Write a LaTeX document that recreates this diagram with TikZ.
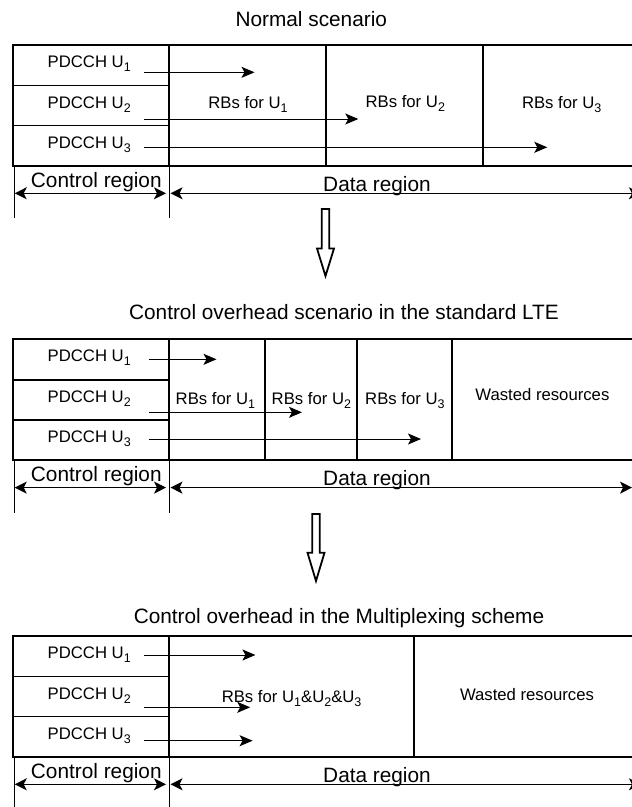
\documentclass[tikz,border=0pt]{standalone}
\usepackage{fontspec}
\setmainfont{Liberation Sans}
\usetikzlibrary{arrows.meta}
\newcommand{\usub}[1]{\raisebox{-4pt}{\fontsize{12.5}{13}\selectfont #1}}

\begin{document}
\begin{tikzpicture}[x=1pt, y=-1pt,
    box/.style={line width=1.7pt},
    flow/.style={-{Stealth[length=13pt,width=11pt,inset=3pt]}, line width=1pt},
    dim/.style={{Stealth[length=12pt,width=12pt,inset=3pt]}-{Stealth[length=12pt,width=12pt,inset=3pt]}, line width=1.3pt},
    tick/.style={line width=1.3pt},
    hollow/.style={line width=1.8pt, line join=miter},
    lbl/.style={font=\fontsize{16.7}{19}\selectfont, inner sep=0pt, anchor=base},
    big/.style={font=\fontsize{20.8}{24}\selectfont, inner sep=0pt, anchor=base}]
    \useasboundingbox (0,0) rectangle (632,807);

    % Common part of the three panels: control column and regions below
    \foreach \k/\T/\R in {1/45/641, 2/339.3/632, 3/636/641} {
      \begin{scope}[shift={(0,\T)}]
        \draw[box] (645,0) -- (13.3,0) -- (13.3,120.7) -- (645,120.7);
        \draw[box] (169.3,0) -- (169.3,120.7);
        \draw[box] (13.3,40.5) -- (169.3,40.5) (13.3,80.5) -- (169.3,80.5);
        \foreach \u/\y in {1/22.5, 2/63.5, 3/103}
          \node[lbl, anchor=base west] (p\k\u) at (47.5,\y) {PDCCH U\usub{\u}};
        % Control region / Data region
        \draw[tick] (14.7,120.7) -- (14.7,173.3) (169.3,120.7) -- (169.3,173.3);
        \coordinate (cl\k) at (14.7,148.3);
        \coordinate (cr\k) at (166,148.3);
        \coordinate (dl\k) at (170.5,148.3);
        \coordinate (dr\k) at (\R,148.3);
        \draw[dim] (cl\k) -- (cr\k);
        \draw[dim] (dl\k) -- (dr\k);
        \node[big] (ctrl\k) at (96.3,142) {Control region};
        \node[big] (data\k) at (377,146) {Data region};
      \end{scope}
    }

    % Normal scenario
    \node[big] (t1) at (311.3,26.7) {Normal scenario};
    \begin{scope}[shift={(0,45)}]
      \draw[box] (326,0) -- (326,120.7) (482.7,0) -- (482.7,120.7);
      \node[lbl] (rb11) at (248,63.3) {RBs for U\usub{1}};
      \node[lbl] (rb12) at (405.3,62.5) {RBs for U\usub{2}};
      \node[lbl] (rb13) at (561.7,63.3) {RBs for U\usub{3}};
      \coordinate (a11) at (254.5,27.3);
      \coordinate (a12) at (358.3,74);
      \coordinate (a13) at (547.3,102.3);
    \end{scope}
    \foreach \u in {1,2,3}
      \draw[flow, shorten <=13.5pt] (p1\u.east |- a1\u) -- (a1\u);

    % Control overhead in the standard LTE
    \node[big] (t2) at (344,319) {Control overhead scenario in the standard LTE};
    \begin{scope}[shift={(0,339.3)}]
      \draw[box] (265,0) -- (265,120.7) (357,0) -- (357,120.7) (452,0) -- (452,120.7);
      \node[lbl] (rb21) at (215.4,64.8) {RBs for U\usub{1}};
      \node[lbl] (rb22) at (311.4,64.8) {RBs for U\usub{2}};
      \node[lbl] (rb23) at (404.9,64.8) {RBs for U\usub{3}};
      \node[lbl] (w2) at (542.4,61.3) {Wasted resources};
      \coordinate (a21) at (216.5,20);
      \coordinate (a22) at (302,73);
      \coordinate (a23) at (421,99.7);
    \end{scope}
    \foreach \u in {1,2,3}
      \draw[flow, shorten <=18pt] (p2\u.east |- a2\u) -- (a2\u);

    % Control overhead with multiplexing
    \node[big] (t3) at (339,623.3) {Control overhead in the Multiplexing scheme};
    \begin{scope}[shift={(0,636)}]
      \draw[box] (414.3,0) -- (414.3,120.7);
      \node[lbl] (rb3) at (291.6,66.5) {RBs for U\usub{1}\&U\usub{2}\&U\usub{3}};
      \node[lbl] (w3) at (527,64.8) {Wasted resources};
      \coordinate (a31) at (255.4,19);
      \coordinate (a32) at (250.2,71.3);
      \coordinate (a33) at (252.6,104.7);
    \end{scope}
    \foreach \u in {1,2,3}
      \draw[flow, shorten <=13pt] (p3\u.east |- a3\u) -- (a3\u);

    % Hollow arrows between the panels
    \foreach \x/\a/\b/\c in {325.5/209/248.5/276, 316/514/552.7/581}
      \draw[hollow] (\x-3.8,\a) -- (\x+3.8,\a) -- (\x+3.8,\b) -- (\x+8.5,\b)
        -- (\x,\c) -- (\x-8.5,\b) -- (\x-3.8,\b) -- cycle;
\end{tikzpicture}
\end{document}
